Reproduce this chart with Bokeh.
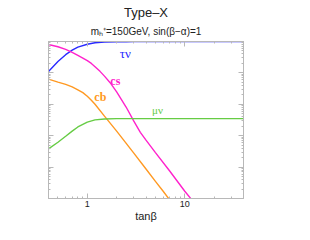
from bokeh.plotting import figure
from bokeh.models import Range1d, LogAxis, Label, FixedTicker, Title
from bokeh.embed import file_html
from bokeh.resources import INLINE

# --- data ---
tanb_tau = [0.4, 0.5, 0.6, 0.7, 0.8, 1.0, 1.2, 1.5, 2, 2.5, 3, 4, 5, 7, 10, 15, 20, 30, 40]
br_tau = [0.11, 0.23, 0.38, 0.53, 0.665, 0.815, 0.91, 0.96, 0.98, 0.985, 0.988, 0.99, 0.99, 0.99, 0.99, 0.99, 0.99, 0.99, 0.99]

tanb_cs = [0.4, 0.5, 0.6, 0.7, 0.8, 0.9, 1.0, 1.1, 1.2, 1.35, 1.5, 1.75, 2, 2.5, 3, 3.5, 4, 5, 7, 10, 12]
br_cs = [0.80, 0.68, 0.56, 0.45, 0.36, 0.296, 0.245, 0.20, 0.158, 0.112, 0.079, 0.045, 0.025,
         0.0082, 0.0029, 0.00128, 7.2e-4, 2.9e-4, 7.5e-5, 1.7e-5, 8.5e-6]

tanb_cb = [0.4, 0.5, 0.6, 0.7, 0.8, 0.9, 1.0, 1.1, 1.2, 1.5, 2, 3, 4, 5, 6, 7]
br_cb = [0.063, 0.051, 0.043, 0.036, 0.029, 0.0235, 0.018, 0.0135, 0.010, 0.0042, 0.0014,
         2.8e-4, 8.7e-5, 3.5e-5, 1.7e-5, 9e-6]

tanb_mu = [0.4, 0.5, 0.6, 0.7, 0.8, 1.0, 1.2, 1.5, 2, 3, 5, 10, 20, 40]
br_mu = [3.8e-4, 6.2e-4, 9.6e-4, 1.4e-3, 1.9e-3, 2.7e-3, 3.2e-3, 3.4e-3, 3.5e-3, 3.5e-3, 3.5e-3, 3.5e-3, 3.5e-3, 3.5e-3]

title_text = "Type\u2013X"
subtitle_text = "m\u2095\u207a=150GeV, sin(\u03b2\u2212\u03b1)=1"
x_label = "tan\u03b2"
x_major = [1, 10]
x_tick_labels = ["1", "10"]

C_TAU = "#2a2aff"
C_CS = "#ff22cc"
C_CB = "#ff9922"
C_MU = "#66cc44"
AX = "#b8b8b8"

x_minor = [m * d for d in (0.1, 1, 10) for m in range(2, 10) if 0.4 <= m * d <= 40]
y_major = [10.0 ** k for k in range(-5, 1)]
y_minor = [m * 10.0 ** k for k in range(-5, 0) for m in range(2, 10)]

p = figure(width=294, height=224, x_axis_type="log", y_axis_type="log",
           x_range=Range1d(0.4, 40), y_range=Range1d(1e-5, 1),
           output_backend="svg", toolbar_location=None, title=None,
           min_border_left=48, min_border_right=51,
           min_border_top=41, min_border_bottom=25)
p.grid.visible = False
p.outline_line_color = AX
p.background_fill_color = "white"

def style(ax, labels=True):
    ax.axis_line_color = AX
    ax.major_tick_line_color = AX
    ax.minor_tick_line_color = AX
    ax.major_tick_in = 5
    ax.major_tick_out = 0
    ax.minor_tick_in = 2
    ax.minor_tick_out = 0
    ax.major_label_text_font = "Liberation Sans"
    ax.major_label_text_font_size = "9px" if labels else "2px"
    ax.major_label_text_color = "#222222" if labels else None
    ax.major_label_standoff = 2 if labels else 0

p.xaxis[0].ticker = FixedTicker(ticks=x_major, minor_ticks=x_minor)
p.xaxis[0].major_label_overrides = {x_major[0]: x_tick_labels[0], x_major[1]: x_tick_labels[1]}
p.yaxis[0].ticker = FixedTicker(ticks=y_major, minor_ticks=y_minor)
style(p.xaxis[0])
style(p.yaxis[0], labels=False)
p.xaxis[0].axis_label = x_label
p.xaxis[0].axis_label_text_font = "Liberation Sans"
p.xaxis[0].axis_label_text_font_size = "11px"
p.xaxis[0].axis_label_text_font_style = "normal"
p.xaxis[0].axis_label_text_color = "#222222"
p.xaxis[0].axis_label_standoff = 0

top = LogAxis(ticker=FixedTicker(ticks=x_major, minor_ticks=x_minor))
right = LogAxis(ticker=FixedTicker(ticks=y_major, minor_ticks=y_minor))
style(top, labels=False)
style(right, labels=False)
p.add_layout(top, "above")
p.add_layout(right, "right")

p.add_layout(Title(text=subtitle_text, align="center", text_font="Liberation Sans",
                   text_font_size="10px", text_font_style="normal", text_color="#222222",
                   standoff=9, offset=0), "above")
p.add_layout(Title(text=title_text, align="center", text_font="Liberation Sans",
                   text_font_size="13px", text_font_style="normal", text_color="#222222",
                   standoff=0, offset=0), "above")

lw = 1.4
p.line(tanb_tau, br_tau, line_color=C_TAU, line_width=lw)
p.line(tanb_cs, br_cs, line_color=C_CS, line_width=lw)
p.line(tanb_cb, br_cb, line_color=C_CB, line_width=lw)
p.line(tanb_mu, br_mu, line_color=C_MU, line_width=lw)

def lab(x, y, t, color, size="12px", style_="normal"):
    p.add_layout(Label(x=x, y=y, text=t, text_color=color, text_font="Liberation Serif",
                       text_font_size=size, text_font_style=style_,
                       text_align="center", text_baseline="middle"))

lab(2.46, 0.41, "\u03c4\u03bd", C_TAU, size="13px")
lab(1.94, 0.057, "cs", C_CS, style_="bold")
lab(1.36, 0.0166, "cb", C_CB, style_="bold")
lab(5.25, 0.0064, "\u03bc\u03bd", C_MU, size="11px")

open("out.html", "w").write(file_html(p, INLINE))
